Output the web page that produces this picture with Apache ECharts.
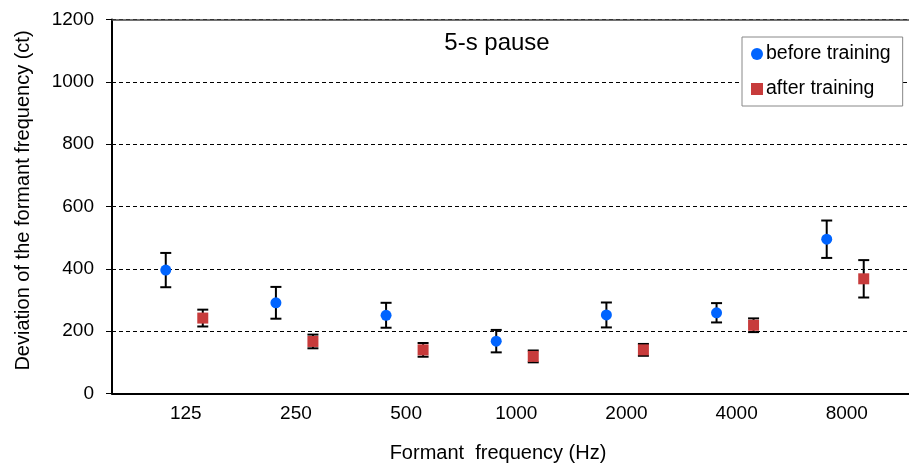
<!DOCTYPE html>
<html>
<head>
<meta charset="utf-8">
<script src="https://cdn.jsdelivr.net/npm/echarts@6/dist/echarts.min.js"></script>
<style>html,body{margin:0;padding:0;background:#fff}#c{width:909px;height:466px}</style>
</head>
<body>
<div id="c"></div>
<script>
var categories = ['125', '250', '500', '1000', '2000', '4000', '8000'];
var beforeMean = [396, 291, 251, 168, 252, 259, 495];
var beforeErr  = [55, 51, 40, 36, 40, 31, 60];
var afterMean  = [242, 167, 140, 119, 140, 219, 368];
var afterErr   = [27, 22, 22, 19, 19, 22, 60];
var yTicks = [0, 200, 400, 600, 800, 1000, 1200];

var OFF_B = 0.488, OFF_A = 0.824, OFF_L = 0.67;
var FONT = 'Liberation Sans, Arial, sans-serif';

function pts(means, off) { return means.map(function (v, i) { return [i + off, v]; }); }
function errs(means, e, off) { return means.map(function (v, i) { return [i + off, v - e[i], v + e[i]]; }); }

function errRender(params, api) {
  var x = api.value(0);
  var lo = api.coord([x, api.value(1)]);
  var hi = api.coord([x, api.value(2)]);
  var hw = 5.5;
  var st = { stroke: '#000', lineWidth: 2 };
  return { type: 'group', children: [
    { type: 'line', shape: { x1: lo[0], y1: lo[1], x2: hi[0], y2: hi[1] }, style: st },
    { type: 'line', shape: { x1: lo[0] - hw, y1: lo[1], x2: lo[0] + hw, y2: lo[1] }, style: st },
    { type: 'line', shape: { x1: hi[0] - hw, y1: hi[1], x2: hi[0] + hw, y2: hi[1] }, style: st }
  ]};
}

var chart = echarts.init(document.getElementById('c'), null, { renderer: 'canvas' });
var XMAX = 7.235;
chart.setOption({
  animation: false,
  backgroundColor: '#fff',
  textStyle: { fontFamily: FONT },
  grid: { left: 112, right: 0, top: 19.5, bottom: 72.5 },
  legend: {
    orient: 'vertical', left: 742, top: 37, width: 161,
    backgroundColor: '#fff', borderColor: '#888', borderWidth: 1,
    padding: [7, 12, 7, 9], itemGap: 15, itemWidth: 12, itemHeight: 12,
    textStyle: { fontSize: 19.5, color: '#000', fontFamily: FONT, padding: [0, 0, 0, -2] },
    data: [
      { name: 'before training', icon: 'circle' },
      { name: 'after training', icon: 'rect' }
    ]
  },
  graphic: [
    { type: 'text', x: 497, y: 43, style: { text: '5-s pause', font: '24px ' + FONT, fill: '#000', align: 'center', verticalAlign: 'middle' } },
    { type: 'text', x: 498, y: 453, style: { text: 'Formant  frequency (Hz)', font: '20px ' + FONT, fill: '#000', align: 'center', verticalAlign: 'middle' } },
    { type: 'text', x: 23, y: 200.5, rotation: Math.PI / 2, style: { text: 'Deviation of the formant frequency (ct)', font: '20px ' + FONT, fill: '#000', align: 'center', verticalAlign: 'middle' } }
  ],
  xAxis: [
    {
      type: 'value', min: 0, max: XMAX, position: 'bottom',
      axisLine: { show: true, onZero: false, lineStyle: { color: '#000', width: 2 } },
      axisTick: { show: false },
      splitLine: { show: false },
      axisLabel: {
        customValues: categories.map(function (c, i) { return i + OFF_L; }),
        formatter: function (v) { return categories[Math.round(v - OFF_L)]; },
        fontSize: 19, color: '#000', margin: 11, fontFamily: FONT
      }
    },
    {
      type: 'value', min: 0, max: XMAX, position: 'top',
      axisLine: { show: true, onZero: false, lineStyle: { color: '#444', width: 1.5 } },
      axisTick: { show: false }, axisLabel: { show: false }, splitLine: { show: false }
    }
  ],
  yAxis: {
    type: 'value', min: 0, max: 1200, interval: 200,
    axisLine: { show: true, lineStyle: { color: '#000', width: 2 } },
    axisTick: { show: true, length: 6, lineStyle: { color: '#000', width: 1 } },
    axisLabel: {
      fontSize: 19, color: '#000', margin: 18, fontFamily: FONT,
      customValues: yTicks,
      formatter: function (v) { return String(v); }
    },
    splitLine: { show: true, lineStyle: { color: '#000', width: 1, type: [4, 3] } }
  },
  series: [
    { type: 'custom', name: 'err-before', renderItem: errRender, data: errs(beforeMean, beforeErr, OFF_B), z: 2, encode: { x: 0, y: [1, 2] } },
    { type: 'custom', name: 'err-after', renderItem: errRender, data: errs(afterMean, afterErr, OFF_A), z: 2, encode: { x: 0, y: [1, 2] } },
    { type: 'scatter', name: 'before training', symbol: 'circle', symbolSize: 11, itemStyle: { color: '#0064ff', opacity: 1 }, data: pts(beforeMean, OFF_B), z: 3 },
    { type: 'scatter', name: 'after training', symbol: 'rect', symbolSize: 11, itemStyle: { color: '#c73b3b', opacity: 1 }, data: pts(afterMean, OFF_A), z: 3 }
  ]
});
</script>
</body>
</html>
